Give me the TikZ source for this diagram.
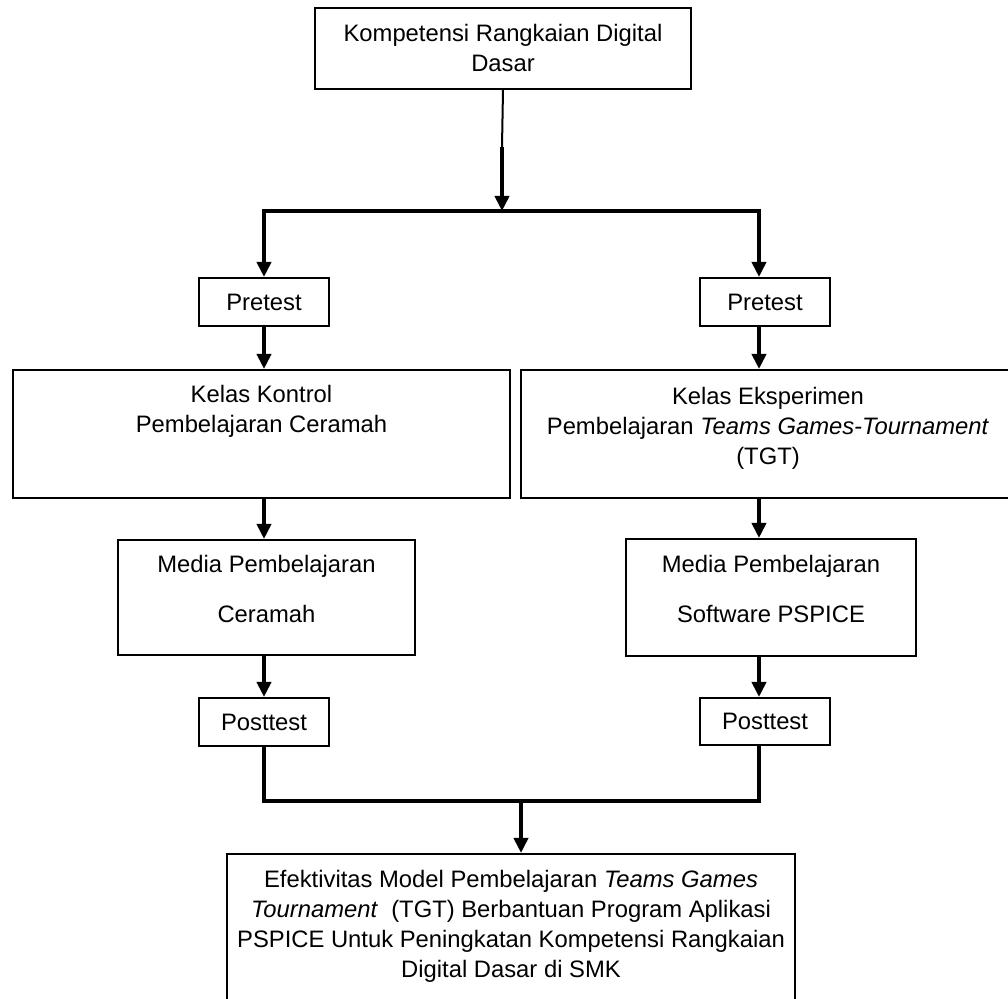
\documentclass[tikz,border=0pt]{standalone}
\usepackage{fontspec}
\setmainfont{Liberation Sans}
\usetikzlibrary{arrows.meta,positioning}

\tikzset{
  box/.style={draw, line width=1pt, anchor=north west, inner sep=0pt, align=center,
    font=\fontsize{11.9pt}{15pt}\selectfont},
  lbl/.style={inner sep=0pt, align=center, font=\fontsize{11.9pt}{15pt}\selectfont},
  conn/.style={line width=2pt, -{Triangle[length=7.5pt,width=7pt]}},
  bar/.style={line width=2pt},
}

\begin{document}
\begin{tikzpicture}[x=0.5pt, y=-0.5pt]
\useasboundingbox (0,0) rectangle (1008,999);

\node[box, minimum width=188pt, minimum height=40.5pt] (kompetensi) at (314,7)
  {Kompetensi Rangkaian Digital\\Dasar};

\coordinate (neck) at (502,147);
\coordinate (split) at (502,211);
\coordinate (splitL) at (264,211);
\coordinate (splitR) at (759,211);
\coordinate (join) at (521,801);

\node[box, minimum width=65pt, minimum height=24pt] (pretestL) at (198,277) {Pretest};
\node[box, minimum width=65pt, minimum height=24pt] (pretestR) at (699,277) {Pretest};

\node[box, minimum width=248.5pt, minimum height=64pt] (kontrol) at (12,369) {};
\node[lbl, below=7.75pt of kontrol.north] (kontroltxt)
  {Kelas Kontrol\\Pembelajaran Ceramah};
\node[box, minimum width=247pt, minimum height=64pt] (eksperimen) at (520,369) {};
\node[lbl, below=8.75pt of eksperimen.north] (eksperimentxt)
  {Kelas Eksperimen\\Pembelajaran \textit{Teams Games-Tournament}\\(TGT)};

\node[box, minimum width=148.5pt, minimum height=57.5pt] (mediaL) at (117,539) {};
\node[lbl, below=7.75pt of mediaL.north] (mediaLtxt)
  {Media Pembelajaran\\[10pt]Ceramah};
\node[box, minimum width=145pt, minimum height=58.5pt] (mediaR) at (625,538) {};
\node[lbl, below=8.2pt of mediaR.north] (mediaRtxt)
  {Media Pembelajaran\\[10pt]Software PSPICE};

\node[box, minimum width=65pt, minimum height=24pt] (posttestL) at (198,697) {Posttest};
\node[box, minimum width=65pt, minimum height=23.5pt] (posttestR) at (699,697) {Posttest};

\node[box, minimum width=284pt, minimum height=100pt] (hasil) at (226,853) {};
\node[lbl, below=8.2pt of hasil.north] (hasiltxt)
  {Efektivitas Model Pembelajaran \textit{Teams Games}\\
   \textit{Tournament}\ \ (TGT) Berbantuan Program Aplikasi\\
   PSPICE Untuk Peningkatan Kompetensi Rangkaian\\
   Digital Dasar di SMK};

\draw[line width=1pt] (kompetensi.south) -- (neck);
\draw[conn] (neck) -- (split);
\draw[bar, line cap=rect] (splitL) -- (splitR);

\draw[conn] (splitL) -- (splitL |- pretestL.north);
\draw[conn] (splitL |- pretestL.south) -- (splitL |- kontrol.north);
\draw[conn] (splitL |- kontrol.south) -- (splitL |- mediaL.north);
\draw[conn] (splitL |- mediaL.south) -- (splitL |- posttestL.north);

\draw[conn] (splitR) -- (splitR |- pretestR.north);
\draw[conn] (splitR |- pretestR.south) -- (splitR |- eksperimen.north);
\draw[conn] (splitR |- eksperimen.south) -- (splitR |- mediaR.north);
\draw[conn] (splitR |- mediaR.south) -- (splitR |- posttestR.north);

\draw[bar] (splitL |- posttestL.south) |- (join) -| (splitR |- posttestR.south);
\draw[conn] (join) -- (join |- hasil.north);
\end{tikzpicture}
\end{document}
